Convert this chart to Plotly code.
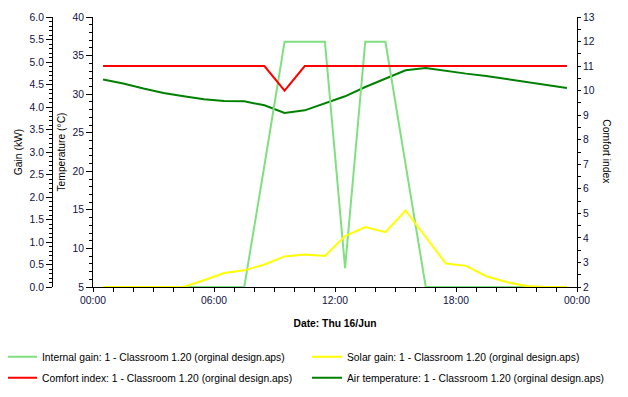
import plotly.graph_objects as go

# ---- data (hourly values at half-hours, Thu 16 Jun) ----
hours = [h + 0.5 for h in range(24)]
day = "2022-06-16"

internal_gain_kw = [0, 0, 0, 0, 0, 0, 0, 0, 2.7, 5.45, 5.45, 5.45,
                    0.42, 5.45, 5.45, 2.7, 0, 0, 0, 0, 0, 0, 0, 0]
solar_gain_kw = [0, 0, 0, 0, 0, 0.15, 0.31, 0.37, 0.50, 0.68, 0.72, 0.69,
                 1.13, 1.33, 1.22, 1.70, 1.11, 0.52, 0.47, 0.24, 0.11, 0.02, 0, 0]
comfort_index = [11, 11, 11, 11, 11, 11, 11, 11, 11, 10, 11, 11,
                 11, 11, 11, 11, 11, 11, 11, 11, 11, 11, 11, 11]
air_temp_c = [31.89, 31.37, 30.72, 30.15, 29.72, 29.33, 29.11, 29.07, 28.55, 27.55, 27.9, 28.77,
              29.72, 30.93, 32.0, 33.09, 33.4, 33.0, 32.66, 32.35, 31.96, 31.57, 31.24, 30.8]

series_names = [
    "Internal gain: 1 - Classroom 1.20 (orginal design.aps)",
    "Solar gain: 1 - Classroom 1.20 (orginal design.aps)",
    "Comfort index: 1 - Classroom 1.20 (orginal design.aps)",
    "Air temperature: 1 - Classroom 1.20 (orginal design.aps)",
]


def stamp(h):
    hh = int(h)
    mm = int(round((h - hh) * 60))
    return f"{day} {hh:02d}:{mm:02d}"


times = [stamp(h) for h in hours]

FONT = "Liberation Sans, Arial, sans-serif"
FS = 10.3
TICKCOL = "#101040"
OFF = 8                      # page body margin of the html page
W, H = 628 - OFF, 397 - OFF  # figure size so that it fills the window
HOUR_MS = 3600 * 1000

fig = go.Figure()
fig.add_trace(go.Scatter(x=times, y=internal_gain_kw, yaxis="y2", mode="lines",
                         line=dict(color="#80e080", width=2), name=series_names[0],
                         legend="legend"))
fig.add_trace(go.Scatter(x=times, y=solar_gain_kw, yaxis="y2", mode="lines",
                         line=dict(color="#ffff00", width=2), name=series_names[1],
                         legend="legend2"))
fig.add_trace(go.Scatter(x=times, y=comfort_index, yaxis="y3", mode="lines",
                         line=dict(color="#ff0000", width=2), name=series_names[2],
                         legend="legend3"))
fig.add_trace(go.Scatter(x=times, y=air_temp_c, yaxis="y", mode="lines",
                         line=dict(color="#008000", width=2), name=series_names[3],
                         legend="legend4"))

# page-pixel layout targets converted to figure coordinates
ml, mr = 10 - OFF, 51
mt, mb = 17 - OFF, 110
pw = W - ml - mr
dom_left = (93 - OFF - ml) / pw
gain_pos = (52 - OFF - ml) / pw

axis_common = dict(showgrid=False, zeroline=False, showline=True, linecolor="black",
                   linewidth=1, ticks="outside", tickcolor="black",
                   tickfont=dict(family=FONT, size=FS, color=TICKCOL))

fig.update_layout(
    width=W, height=H,
    margin=dict(l=ml, r=mr, t=mt, b=mb, autoexpand=False),
    paper_bgcolor="white", plot_bgcolor="white",
    font=dict(family=FONT, size=FS, color="black"),
    xaxis=dict(domain=[dom_left, 1], type="date",
               range=[f"{day} 00:00", "2022-06-17 00:00"],
               tick0=f"{day} 00:00", dtick=6 * HOUR_MS, tickformat="%H:%M", ticklen=4,
               minor=dict(dtick=HOUR_MS, ticklen=4, ticks="outside", tickcolor="black",
                          showgrid=False),
               title=dict(text="<b>Date: Thu 16/Jun</b>", standoff=14,
                          font=dict(family=FONT, size=FS, color="black")),
               **axis_common),
    yaxis=dict(range=[5, 40], dtick=5, tick0=5, ticklen=6,
               minor=dict(dtick=1, ticklen=3, ticks="outside", tickcolor="black", showgrid=False),
               title=dict(text="Temperature (°C)", standoff=4,
                          font=dict(family=FONT, size=FS, color="black")),
               **axis_common),
    yaxis2=dict(range=[0, 6], dtick=0.5, tick0=0, tickformat=".1f", ticklen=6,
                anchor="free", overlaying="y", side="left", position=gain_pos,
                minor=dict(dtick=0.1, ticklen=3, ticks="outside", tickcolor="black", showgrid=False),
                title=dict(text="Gain (kW)", standoff=4,
                           font=dict(family=FONT, size=FS, color="black")),
                **axis_common),
    yaxis3=dict(range=[2, 13], dtick=1, tick0=2, ticklen=3,
                anchor="x", overlaying="y", side="right",
                minor=dict(dtick=0.5, ticklen=3, ticks="outside", tickcolor="black", showgrid=False),
                **axis_common),
    showlegend=True,
)

LEG_TEXT_OFF = 40  # legend text offset from legend origin (px)
leg_common = dict(xref="paper", yref="container", xanchor="left", yanchor="middle",
                  orientation="h", bgcolor="rgba(0,0,0,0)", itemwidth=30,
                  font=dict(family=FONT, size=FS, color="black"))
row1 = 1 - (356.7 - OFF) / H
row2 = 1 - (377.7 - OFF) / H
col1 = (42 - LEG_TEXT_OFF - OFF - ml) / pw
col2 = (347 - LEG_TEXT_OFF - OFF - ml) / pw
fig.update_layout(
    legend=dict(x=col1, y=row1, **leg_common),
    legend2=dict(x=col2, y=row1, **leg_common),
    legend3=dict(x=col1, y=row2, **leg_common),
    legend4=dict(x=col2, y=row2, **leg_common),
)

fig.add_annotation(text="Comfort index", xref="paper", yref="paper",
                   x=(606.7 - OFF - ml) / pw, y=0.5, textangle=90, showarrow=False,
                   xanchor="center", yanchor="middle",
                   font=dict(family=FONT, size=FS, color="black"))

fig.write_html("out.html")
